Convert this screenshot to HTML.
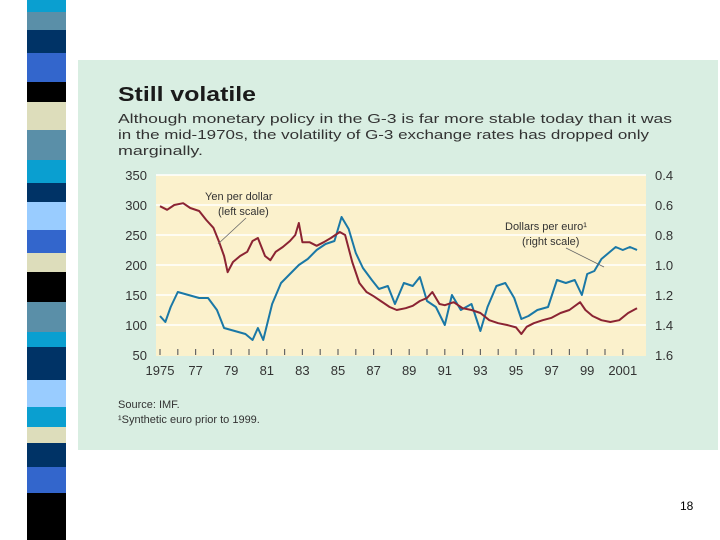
<!DOCTYPE html>
<html><head><meta charset="utf-8">
<style>
html,body{margin:0;padding:0;background:#fff;}
svg{display:block;font-family:"Liberation Sans",Arial,sans-serif;}
</style></head>
<body>
<svg id="slide" width="720" height="540" viewBox="0 0 720 540">
  <g id="stripe"></g>
  <rect x="78" y="60" width="640" height="390" fill="#d9eee2"/>
  <text x="118" y="101" font-size="20" font-weight="bold" fill="#1a1a1a" textLength="138" lengthAdjust="spacingAndGlyphs">Still volatile</text>
  <g font-size="13" fill="#333">
    <text x="118" y="123" textLength="554" lengthAdjust="spacingAndGlyphs">Although monetary policy in the G-3 is far more stable today than it was</text>
    <text x="118" y="139" textLength="531" lengthAdjust="spacingAndGlyphs">in the mid-1970s, the volatility of G-3 exchange rates has dropped only</text>
    <text x="118" y="155" textLength="85" lengthAdjust="spacingAndGlyphs">marginally.</text>
  </g>
  <rect x="156" y="175" width="490" height="181" fill="#fbf1cc"/>
  <g id="grid"></g>
  <g id="axes" font-size="13" fill="#333"></g>
  <g id="series"></g>
  <g font-size="11" fill="#333">
    <text x="205" y="200">Yen per dollar</text>
    <text x="218" y="215">(left scale)</text>
    <line x1="246" y1="218" x2="218" y2="244" stroke="#666" stroke-width="0.8"/>
    <text x="505" y="230">Dollars per euro¹</text>
    <text x="522" y="245">(right scale)</text>
    <line x1="566" y1="248" x2="604" y2="267" stroke="#666" stroke-width="0.8"/>
  </g>
  <g font-size="11" fill="#333">
    <text x="118" y="408">Source: IMF.</text>
    <text x="118" y="423">¹Synthetic euro prior to 1999.</text>
  </g>
  <text x="680" y="510" font-size="12" fill="#000">18</text>
</svg>
<script>
// Yen per dollar (left scale)
const yenYears = [1975,1975.4,1975.8,1976.3,1976.7,1977.2,1977.6,1978.0,1978.3,1978.6,1978.8,1979.1,1979.5,1979.9,1980.2,1980.5,1980.9,1981.2,1981.5,1981.9,1982.3,1982.6,1982.8,1983.0,1983.4,1983.8,1984.2,1984.6,1985.1,1985.4,1985.8,1986.2,1986.6,1987.0,1987.4,1987.9,1988.3,1988.8,1989.2,1989.6,1990.0,1990.3,1990.7,1991.0,1991.5,1992.0,1992.5,1993.0,1993.5,1994.0,1994.5,1995.0,1995.3,1995.6,1996.0,1996.5,1997.0,1997.5,1998.0,1998.6,1998.9,1999.3,1999.8,2000.3,2000.8,2001.3,2001.8];
const yenValues = [298,292,300,303,295,290,275,262,240,215,188,205,215,222,240,245,215,208,222,230,240,250,270,238,238,232,238,245,255,250,205,170,155,148,140,130,125,128,132,140,145,155,135,133,138,128,125,120,108,103,100,96,85,97,103,108,112,120,125,138,125,115,108,105,108,120,128];
// Dollars per euro (right scale, inverted)
const eurYears = [1975,1975.3,1975.6,1976.0,1976.6,1977.2,1977.7,1978.2,1978.6,1979.2,1979.8,1980.2,1980.5,1980.8,1981.3,1981.8,1982.3,1982.8,1983.3,1983.8,1984.3,1984.8,1985.2,1985.6,1986.0,1986.4,1986.9,1987.3,1987.8,1988.2,1988.7,1989.2,1989.6,1990.0,1990.5,1991.0,1991.4,1991.9,1992.5,1993.0,1993.4,1993.9,1994.4,1994.9,1995.3,1995.7,1996.2,1996.8,1997.3,1997.8,1998.3,1998.7,1999.0,1999.4,1999.8,2000.2,2000.6,2001.0,2001.4,2001.8];
const eurValues = [1.34,1.38,1.28,1.18,1.20,1.22,1.22,1.30,1.42,1.44,1.46,1.50,1.42,1.50,1.26,1.12,1.06,1.00,0.96,0.90,0.86,0.84,0.68,0.76,0.92,1.02,1.10,1.16,1.14,1.26,1.12,1.14,1.08,1.24,1.28,1.40,1.20,1.30,1.26,1.44,1.28,1.14,1.12,1.22,1.36,1.34,1.30,1.28,1.10,1.12,1.10,1.20,1.06,1.04,0.96,0.92,0.88,0.90,0.88,0.90];
const leftTicks = [350,300,250,200,150,100,50];
const rightTicks = ["0.4","0.6","0.8","1.0","1.2","1.4","1.6"];
const yearLabels = ["1975","77","79","81","83","85","87","89","91","93","95","97","99","2001"];

const NS = "http://www.w3.org/2000/svg";
const X0 = 160, PX_PER_YEAR = 17.8;
function xScale(yr){ return X0 + (yr - 1975) * PX_PER_YEAR; }
function yLeft(v){ return 355 - (v - 50) * 0.6; }
function yRight(r){ return yLeft(350 - (r - 0.4) * 250); }
function mk(tag, attrs, parent){ const e=document.createElementNS(NS,tag); for(const k in attrs) e.setAttribute(k,attrs[k]); parent.appendChild(e); return e; }

// stripe
const stripeG = document.getElementById('stripe');
const sb = [0,12,30,53,82,102,130,160,183,202,230,253,272,302,332,347,380,407,427,443,467,493,540];
const sc = ["#0a9fd0","#5a8fa8","#003366","#3366cc","#000000","#ddddbb","#5a8fa8","#0a9fd0","#003366","#99ccff","#3366cc","#ddddbb","#000000","#5a8fa8","#0a9fd0","#003366","#99ccff","#0a9fd0","#ddddbb","#003366","#3366cc","#000000"];
for(let i=0;i<sc.length;i++){
  const r = mk('rect',{x:27,y:sb[i],width:39,height:sb[i+1]-sb[i],fill:sc[i]},stripeG);
  
  
}

const grid = document.getElementById('grid');
const axes = document.getElementById('axes');
leftTicks.forEach((v,i)=>{
  const y = yLeft(v);
  if(v>50){ const l = mk('line',{x1:156,x2:646,y1:y,y2:y,stroke:"#ffffff","stroke-width":1.5},grid);
      }
  const t = mk('text',{x:147,y:y+5,"text-anchor":"end"},axes); t.textContent=v;
   
  const t2 = mk('text',{x:655,y:y+5},axes); t2.textContent=rightTicks[i];
   
});
for(let yr=1975; yr<=2001; yr++){
  const x = xScale(yr);
  const tk = mk('line',{x1:x,x2:x,y1:349,y2:355,stroke:"#666","stroke-width":1.2},axes);
   
}
yearLabels.forEach((lab,i)=>{
  const t = mk('text',{x:xScale(1975+2*i),y:375,"text-anchor":"middle"},axes); t.textContent=lab;
   
});

const ser = document.getElementById('series');
const ep = mk('polyline',{points:eurYears.map((y,i)=>xScale(y)+","+yRight(eurValues[i])).join(" "),fill:"none",stroke:"#1a78a6","stroke-width":2,"stroke-linejoin":"round"},ser);


const yp = mk('polyline',{points:yenYears.map((y,i)=>xScale(y)+","+yLeft(yenValues[i])).join(" "),fill:"none",stroke:"#8b2433","stroke-width":2,"stroke-linejoin":"round"},ser);


</script>
</body></html>
